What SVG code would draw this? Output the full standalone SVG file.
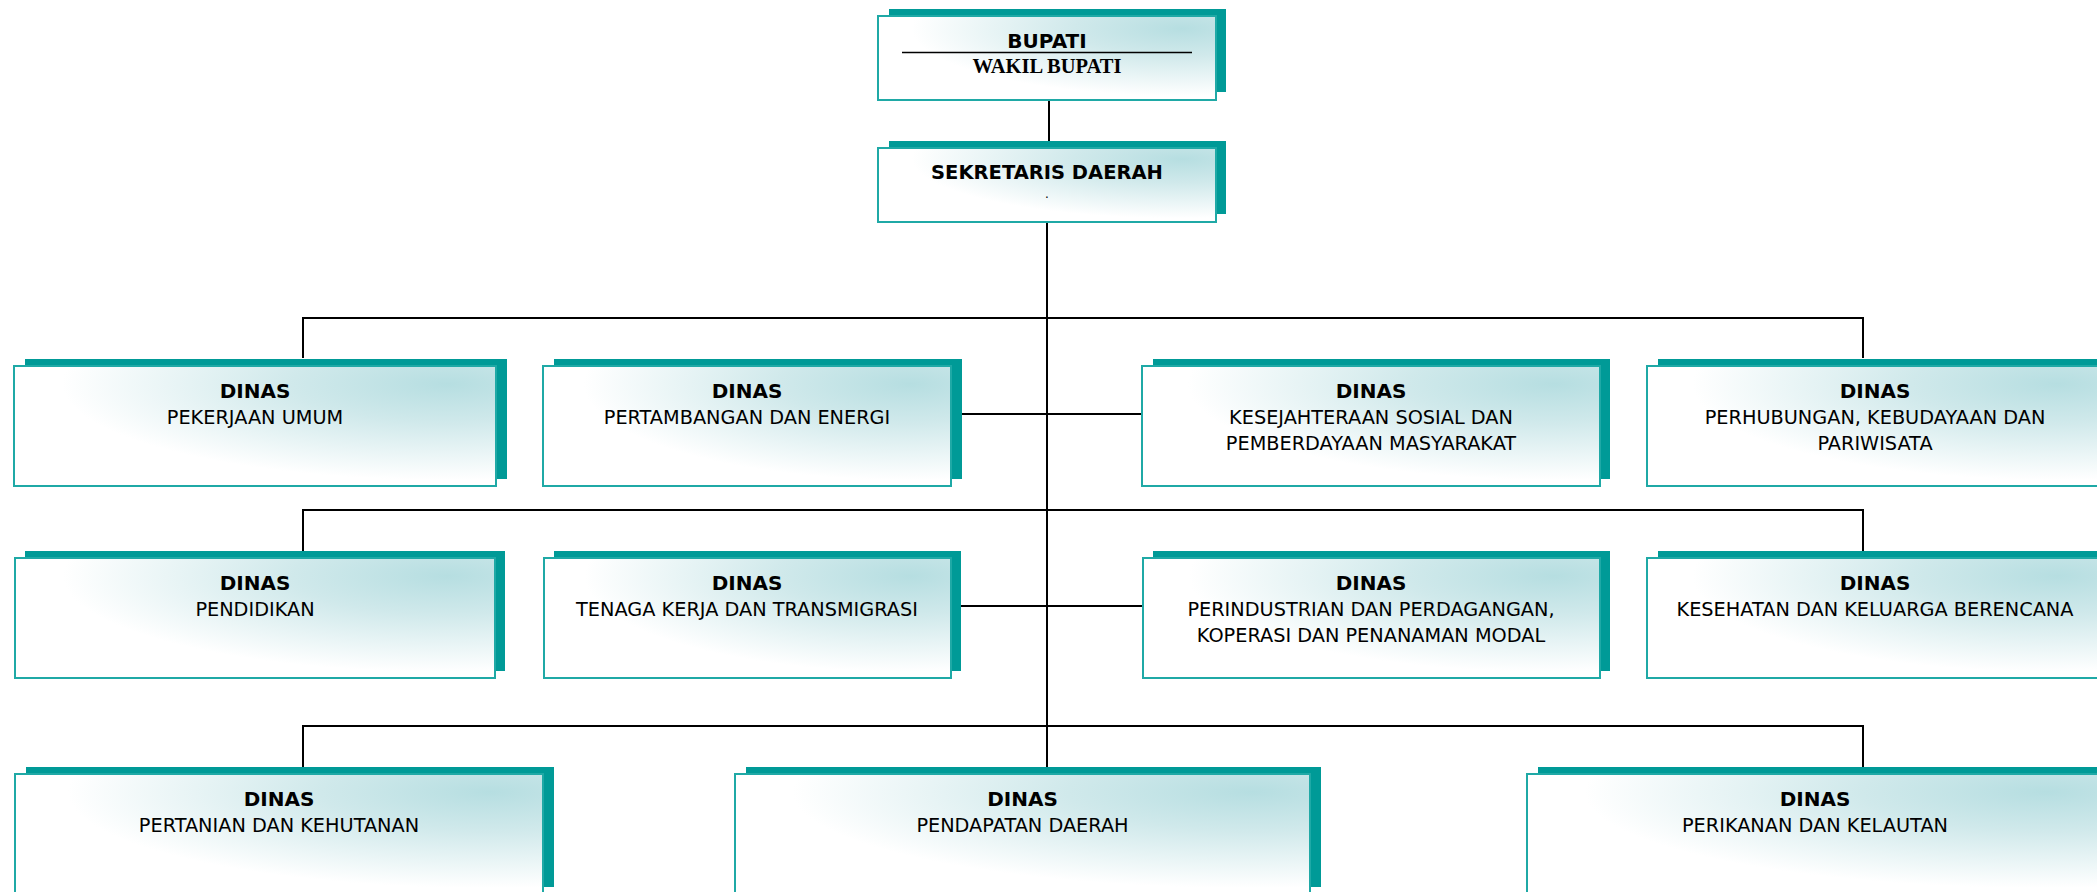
<svg xmlns="http://www.w3.org/2000/svg" width="2097" height="892" viewBox="0 0 2097 892">
<defs>
<radialGradient id="g" cx="0.9" cy="0.15" r="0.8" fx="0.9" fy="0.15">
<stop offset="0" stop-color="#b6dee1"/>
<stop offset="0.4" stop-color="#d0e9eb"/>
<stop offset="1" stop-color="#ffffff"/>
</radialGradient>
<style>
.sh{fill:#009a97}
.fr{fill:url(#g);stroke:#1fa9a6;stroke-width:2}
.b{font-family:"DejaVu Sans",Verdana,sans-serif;font-size:20px;font-weight:bold;fill:#000;text-anchor:middle}
.t{font-family:"DejaVu Sans",Verdana,sans-serif;font-size:19.3px;fill:#000;text-anchor:middle}
.s{font-family:"Liberation Serif","Times New Roman",serif;font-size:20.5px;font-weight:bold;fill:#000;text-anchor:middle}
.c{fill:none;stroke:#000;stroke-width:2}
</style>
</defs>
<rect width="2097" height="892" fill="#fff"/>
<g id="connectors">
<line class="c" x1="1049" y1="100" x2="1049" y2="141"/>
<line class="c" x1="1047" y1="222" x2="1047" y2="767"/>
<polyline class="c" points="303,358 303,318 1863,318 1863,358"/>
<line class="c" x1="951" y1="414" x2="1142" y2="414"/>
<polyline class="c" points="303,551 303,510 1863,510 1863,551"/>
<line class="c" x1="951" y1="606" x2="1143" y2="606"/>
<polyline class="c" points="303,767 303,726 1863,726 1863,767"/>
</g>
<g id="bupati">
<rect class="sh" x="889" y="9" width="337" height="83"/>
<rect class="fr" x="878" y="16" width="338" height="84"/>
<text class="b" x="1047" y="47.5">BUPATI</text>
<line x1="902" y1="52.5" x2="1192" y2="52.5" stroke="#000" stroke-width="1.5"/>
<text class="s" x="1047" y="72.5">WAKIL BUPATI</text>
</g>
<g id="sekda">
<rect class="sh" x="889" y="141" width="337" height="73"/>
<rect class="fr" x="878" y="148" width="338" height="74"/>
<text class="b" x="1047" y="179" style="font-size:19.5px">SEKRETARIS DAERAH</text>
<text class="t" x="1047" y="198" style="font-size:12px">.</text>
</g>
<g id="pekerjaan-umum">
<rect class="sh" x="25" y="359" width="482" height="120"/>
<rect class="fr" x="14" y="366" width="482" height="120"/>
<text class="b" x="255" y="397.5">DINAS</text>
<text class="t" x="255" y="424">PEKERJAAN UMUM</text>
</g>
<g id="pertambangan">
<rect class="sh" x="554" y="359" width="408" height="120"/>
<rect class="fr" x="543" y="366" width="408" height="120"/>
<text class="b" x="747" y="397.5">DINAS</text>
<text class="t" x="747" y="424">PERTAMBANGAN DAN ENERGI</text>
</g>
<g id="kesejahteraan">
<rect class="sh" x="1153" y="359" width="457" height="120"/>
<rect class="fr" x="1142" y="366" width="458" height="120"/>
<text class="b" x="1371" y="397.5">DINAS</text>
<text class="t" x="1371" y="424">KESEJAHTERAAN SOSIAL DAN</text>
<text class="t" x="1371" y="450">PEMBERDAYAAN MASYARAKAT</text>
</g>
<g id="perhubungan">
<rect class="sh" x="1658" y="359" width="456" height="120"/>
<rect class="fr" x="1647" y="366" width="456" height="120"/>
<text class="b" x="1875" y="397.5">DINAS</text>
<text class="t" x="1875" y="424">PERHUBUNGAN, KEBUDAYAAN DAN</text>
<text class="t" x="1875" y="450">PARIWISATA</text>
</g>
<g id="pendidikan">
<rect class="sh" x="25" y="551" width="480" height="120"/>
<rect class="fr" x="15" y="558" width="480" height="120"/>
<text class="b" x="255" y="589.5">DINAS</text>
<text class="t" x="255" y="616">PENDIDIKAN</text>
</g>
<g id="tenaga-kerja">
<rect class="sh" x="554" y="551" width="407" height="120"/>
<rect class="fr" x="544" y="558" width="407" height="120"/>
<text class="b" x="747" y="589.5">DINAS</text>
<text class="t" x="747" y="616">TENAGA KERJA DAN TRANSMIGRASI</text>
</g>
<g id="perindustrian">
<rect class="sh" x="1153" y="551" width="457" height="120"/>
<rect class="fr" x="1143" y="558" width="457" height="120"/>
<text class="b" x="1371" y="589.5">DINAS</text>
<text class="t" x="1371" y="616">PERINDUSTRIAN DAN PERDAGANGAN,</text>
<text class="t" x="1371" y="642">KOPERASI DAN PENANAMAN MODAL</text>
</g>
<g id="kesehatan">
<rect class="sh" x="1658" y="551" width="456" height="120"/>
<rect class="fr" x="1647" y="558" width="456" height="120"/>
<text class="b" x="1875" y="589.5">DINAS</text>
<text class="t" x="1875" y="616">KESEHATAN DAN KELUARGA BERENCANA</text>
</g>
<g id="pertanian">
<rect class="sh" x="26" y="767" width="528" height="120"/>
<rect class="fr" x="15" y="774" width="528" height="120"/>
<text class="b" x="279" y="806">DINAS</text>
<text class="t" x="279" y="832">PERTANIAN DAN KEHUTANAN</text>
</g>
<g id="pendapatan">
<rect class="sh" x="746" y="767" width="575" height="120"/>
<rect class="fr" x="735" y="774" width="575" height="120"/>
<text class="b" x="1022.5" y="806">DINAS</text>
<text class="t" x="1022.5" y="832">PENDAPATAN DAERAH</text>
</g>
<g id="perikanan">
<rect class="sh" x="1538" y="767" width="577" height="120"/>
<rect class="fr" x="1527" y="774" width="577" height="120"/>
<text class="b" x="1815" y="806">DINAS</text>
<text class="t" x="1815" y="832">PERIKANAN DAN KELAUTAN</text>
</g>
</svg>
